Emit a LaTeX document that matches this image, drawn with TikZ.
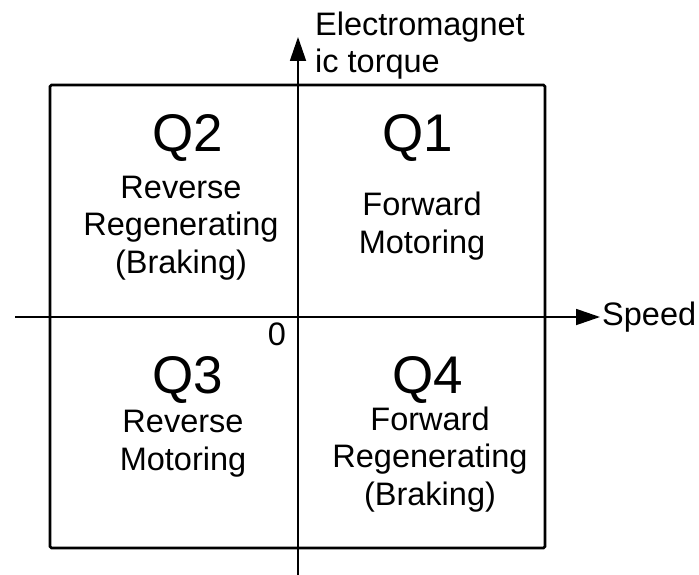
\documentclass[tikz,border=0pt]{standalone}
\usepackage{fontspec}
\setmainfont{Liberation Sans}
\usetikzlibrary{arrows.meta}

\begin{document}
\begin{tikzpicture}[
  x=1pt,
  y=-1pt,
  every node/.style={
    inner sep=0pt,
    font=\fontsize{32.5}{37.5}\selectfont
  },
  frame/.style={
    draw=black,
    line width=2.6pt,
    rounded corners=1.5pt
  },
  axis/.style={
    -{Triangle[length=24pt,width=16pt]},
    draw=black,
    line width=1.8pt
  },
  quadname/.style={
    anchor=base,
    font=\fontsize{53}{60}\selectfont
  },
  quadtext/.style={
    anchor=base,
    align=center
  },
  axislabel/.style={
    anchor=base west,
    align=left
  }
]

\useasboundingbox (0,0) rectangle (699,575);

% Quadrant frame
\coordinate (nw) at (50,85);
\coordinate (se) at (545,548);
\draw[frame] (nw) rectangle (se);

% Axes
\coordinate (origin) at (298,317);
\coordinate (xstart) at (15,317);
\coordinate (xtip)   at (600,317);
\coordinate (ystart) at (298,576);
\coordinate (ytip)   at (298,37);

\draw[axis] (xstart) -- (xtip);
\draw[axis] (ystart) -- (ytip);

% Axis labels (base = last line)
\node[axislabel] (speed)  at (602,325) {Speed};
\node[axislabel] (torque) at (315,73)  {Electromagnet\\ic torque};
\node[anchor=base] (zero) at (277,345) {0};

% Quadrant labels
\node[quadname] (q1) at (418,152) {Q1};
\node[quadname] (q2) at (188,152) {Q2};
\node[quadname] (q3) at (188,393) {Q3};
\node[quadname] (q4) at (428,393) {Q4};

\node[quadtext] (fwdmot) at (422,253) {Forward\\Motoring};
\node[quadtext] (revreg) at (181,273) {Reverse\\Regenerating\\(Braking)};
\node[quadtext] (revmot) at (183,470) {Reverse\\Motoring};
\node[quadtext] (fwdreg) at (430,505) {Forward\\Regenerating\\(Braking)};

\end{tikzpicture}
\end{document}
